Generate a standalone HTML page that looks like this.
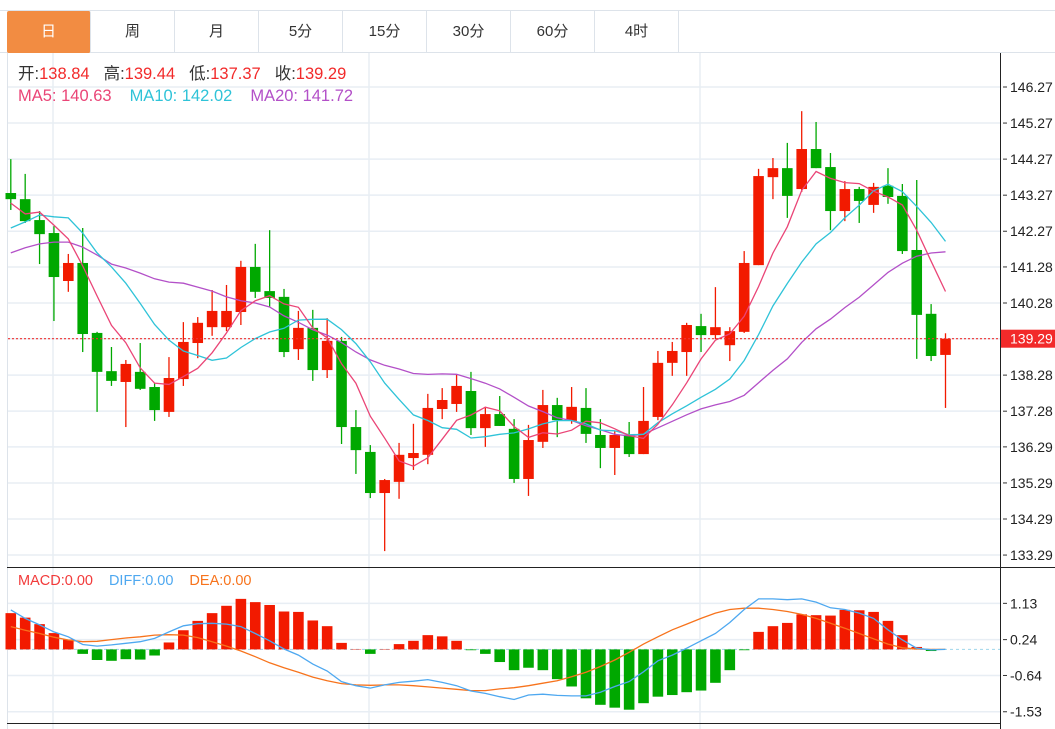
<!DOCTYPE html>
<html><head><meta charset="utf-8">
<style>
html,body{margin:0;padding:0;background:#fff;width:1055px;height:729px;overflow:hidden;font-family:"Liberation Sans","Noto Sans CJK SC",sans-serif;}
#tabs{position:absolute;left:0;top:10px;width:1055px;height:43px;border-top:1px solid #dde3ea;border-bottom:1px solid #dde3ea;box-sizing:border-box;}
.tab{position:absolute;top:0;height:42px;width:84px;line-height:42px;text-align:center;font-size:15px;color:#333;border-right:1px solid #dde3ea;box-sizing:border-box;}
.tab.on{background:#f28c42;color:#fff;border-radius:2px;}
svg{position:absolute;left:0;top:0;}
</style></head><body>
<div id="tabs">
<div class="tab on" style="left:7px">日</div>
<div class="tab" style="left:91px">周</div>
<div class="tab" style="left:175px">月</div>
<div class="tab" style="left:259px">5分</div>
<div class="tab" style="left:343px">15分</div>
<div class="tab" style="left:427px">30分</div>
<div class="tab" style="left:511px">60分</div>
<div class="tab" style="left:595px">4时</div>
</div>
<svg id="chart" width="1055" height="729"></svg>
<script>
const opens=[143.33,143.16,142.58,142.22,140.89,141.39,139.45,138.39,138.09,138.37,137.95,137.26,138.17,139.17,139.61,139.61,140.03,141.28,140.61,140.45,139.00,139.59,138.42,139.23,136.84,136.15,135.01,135.32,135.98,136.07,137.34,137.48,137.84,136.81,137.20,136.79,135.40,136.43,137.45,137.01,137.37,136.62,136.26,136.62,136.09,137.12,138.62,138.92,139.64,139.39,139.11,139.48,141.33,143.77,144.02,143.44,144.55,144.05,142.83,143.44,143.00,143.53,143.25,141.75,139.98,138.84];
const highs=[144.27,143.86,142.83,142.41,141.64,142.36,139.48,139.06,138.70,139.17,138.06,138.78,139.75,139.89,140.64,140.78,141.45,141.92,142.30,140.67,140.06,140.09,139.86,139.34,137.31,136.34,135.40,136.40,136.93,137.76,137.92,138.31,138.37,137.40,137.70,137.06,136.90,137.87,137.65,137.95,137.92,137.06,136.73,136.98,137.95,138.95,139.20,139.73,139.98,140.72,139.61,141.72,144.00,144.30,144.72,145.60,145.30,144.44,143.66,143.50,143.61,144.02,143.58,143.69,140.25,139.44];
const lows=[142.86,142.50,141.36,139.78,140.59,138.92,137.26,137.98,136.84,137.87,137.01,137.12,137.98,138.75,139.37,139.50,139.67,140.42,140.17,138.78,138.70,138.12,138.20,136.37,135.54,134.87,133.40,134.85,135.65,135.81,137.06,137.26,136.62,136.29,136.87,135.29,134.93,136.26,136.56,136.93,136.40,135.70,135.51,136.01,136.09,137.03,138.26,138.26,138.92,139.28,138.67,139.45,141.33,143.16,142.64,143.36,144.02,142.30,142.55,142.50,142.78,143.03,141.64,138.73,138.67,137.37];
const closes=[143.16,142.55,142.19,141.00,141.39,139.42,138.37,138.12,138.59,137.90,137.31,138.20,139.20,139.73,140.06,140.06,141.28,140.59,140.42,138.92,139.59,138.42,139.23,136.84,136.20,135.01,135.37,136.07,136.12,137.37,137.59,137.98,136.81,137.20,136.87,135.40,136.48,137.45,137.03,137.40,136.65,136.26,136.62,136.09,137.01,138.62,138.95,139.67,139.39,139.61,139.50,141.39,143.80,144.02,143.25,144.55,144.02,142.83,143.44,143.11,143.50,143.22,141.72,139.95,138.81,139.29];
const ma5Head=[143.05,142.75,142.80,142.44];
const ma10Head=[142.36,142.53,142.72,142.67,142.64,142.22,141.67,141.28,140.83];
const ma20Head=[141.67,141.81,141.92,141.97,141.97,141.83,141.61,141.36,141.25,141.11,140.95,140.86,140.83,140.72,140.61,140.45,140.34,140.28,140.17];
const priceTicks=[146.27,145.27,144.27,143.27,142.27,141.28,140.28,139.29,138.28,137.28,136.29,135.29,134.29,133.29];
const macdBars=[0.89,0.78,0.62,0.40,0.24,-0.11,-0.26,-0.28,-0.24,-0.25,-0.15,0.17,0.47,0.70,0.89,1.07,1.24,1.16,1.09,0.93,0.92,0.71,0.57,0.16,0.01,-0.11,0.01,0.13,0.21,0.35,0.32,0.21,-0.02,-0.11,-0.31,-0.51,-0.45,-0.51,-0.73,-0.91,-1.20,-1.36,-1.43,-1.48,-1.32,-1.16,-1.12,-1.05,-1.01,-0.82,-0.51,-0.02,0.43,0.57,0.65,0.86,0.84,0.83,0.97,0.96,0.92,0.70,0.35,0.06,-0.04,0.00];
const diffVals=[0.97,0.76,0.60,0.43,0.31,0.12,0.08,0.11,0.15,0.19,0.27,0.43,0.58,0.63,0.64,0.62,0.56,0.39,0.21,0.01,-0.14,-0.36,-0.53,-0.79,-0.89,-0.95,-0.87,-0.81,-0.78,-0.74,-0.81,-0.89,-1.02,-1.08,-1.16,-1.23,-1.12,-1.10,-1.13,-1.14,-1.14,-1.05,-0.91,-0.79,-0.55,-0.28,-0.14,0.03,0.21,0.39,0.66,0.98,1.24,1.24,1.22,1.24,1.16,1.02,0.98,0.89,0.76,0.48,0.23,0.03,-0.01,0.00];
const deaVals=[0.56,0.47,0.39,0.30,0.23,0.19,0.20,0.24,0.28,0.31,0.35,0.36,0.35,0.29,0.19,0.08,-0.04,-0.18,-0.33,-0.45,-0.56,-0.68,-0.77,-0.84,-0.87,-0.88,-0.87,-0.87,-0.89,-0.92,-0.95,-0.98,-1.01,-1.01,-0.97,-0.94,-0.89,-0.83,-0.77,-0.67,-0.56,-0.42,-0.26,-0.07,0.13,0.31,0.48,0.62,0.76,0.89,0.98,1.01,1.01,0.98,0.93,0.86,0.76,0.64,0.52,0.39,0.26,0.13,0.04,0.01,0.00,0.00];
const macdTicks=[1.13,0.24,-0.64,-1.53];

const NS='http://www.w3.org/2000/svg';
const svg=document.getElementById('chart');
function mk(tag,attrs,parent){const e=document.createElementNS(NS,tag);for(const k in attrs)e.setAttribute(k,attrs[k]);(parent||svg).appendChild(e);return e;}
const X0=10.8,DX=14.38;
function xs(i){return X0+i*DX;}
function yp(p){return 87+(146.27-p)*36.06;}
function ym(v){return 649.4-v*40.75;}
const UP='#f21a00',DN='#00a800';

for(const t of priceTicks){
  const g=mk('line',{x1:8,x2:1000,y1:yp(t),y2:yp(t),stroke:'#e8eef4','stroke-width':1.5});
  
  
}
for(const t of macdTicks){
  const g=mk('line',{x1:8,x2:1000,y1:ym(t),y2:ym(t),stroke:'#e8eef4','stroke-width':1.5});
  
  
}
for(const vx of [53,369,700]){
  const g=mk('line',{x1:vx,x2:vx,y1:53,y2:729,stroke:'#e8eef4','stroke-width':1.5});
  
  
}
mk('line',{x1:7.5,x2:7.5,y1:53,y2:729,stroke:'#dde3ea'});
const ax=mk('line',{x1:1000.5,x2:1000.5,y1:53,y2:729,stroke:'#222'});


mk('line',{x1:7,x2:1055,y1:567.5,y2:567.5,stroke:'#222'});
mk('line',{x1:7,x2:1000,y1:723.5,y2:723.5,stroke:'#222'});

for(const t of priceTicks){
  mk('line',{x1:1003,x2:1007,y1:yp(t),y2:yp(t),stroke:'#333'});
  const tx=mk('text',{x:1010,y:yp(t)+5,'font-size':14,fill:'#222'});
  tx.textContent=t.toFixed(2);
  
  
}
for(const t of macdTicks){
  mk('line',{x1:1003,x2:1007,y1:ym(t),y2:ym(t),stroke:'#333'});
  const tx=mk('text',{x:1010,y:ym(t)+5,'font-size':14,fill:'#222'});
  tx.textContent=t.toFixed(2);
  
  
}

for(let i=0;i<closes.length;i++){
  const up=closes[i]>=opens[i],c=up?UP:DN,x=xs(i);
  const w=mk('line',{x1:x,x2:x,y1:yp(highs[i]),y2:yp(lows[i]),stroke:c,'stroke-width':1.3});
  
  
  const top=yp(Math.max(opens[i],closes[i])),bot=yp(Math.min(opens[i],closes[i]));
  const b=mk('rect',{x:x-5.3,y:top,width:10.6,height:Math.max(1,bot-top),fill:c});
  
  
}

function ma(n,head){const out=[];for(let i=0;i<closes.length;i++){if(i<n-1){out.push(head[i]);}else{let s=0;for(let k=i-n+1;k<=i;k++)s+=closes[k];out.push(s/n);}}return out;}
function poly(vals,fy,color,name){
  const pts=vals.map((v,i)=>xs(i).toFixed(1)+','+fy(v).toFixed(1)).join(' ');
  const p=mk('polyline',{points:pts,fill:'none',stroke:color,'stroke-width':1.3});
  
  
}
poly(ma(20,ma20Head),yp,'#b350c8','ma20-line');
poly(ma(10,ma10Head),yp,'#2fc3d8','ma10-line');
poly(ma(5,ma5Head),yp,'#ea4577','ma5-line');

const lc=closes[closes.length-1];
const ll=mk('line',{x1:8,x2:1000,y1:yp(lc),y2:yp(lc),stroke:'#f03030','stroke-dasharray':'2,2','stroke-width':1.2});


const lb=mk('rect',{x:1001,y:yp(lc)-9,width:54,height:18,fill:'#f22a2a'});


const lt=mk('text',{x:1010,y:yp(lc)+5,'font-size':14,fill:'#fff'});
lt.textContent=lc.toFixed(2);



mk('line',{x1:8,x2:1000,y1:ym(0),y2:ym(0),stroke:'#9fd6ec','stroke-dasharray':'3,3'});
for(let i=0;i<macdBars.length;i++){
  const v=macdBars[i],y0=ym(0),y1=ym(v);
  const r=mk('rect',{x:xs(i)-5.3,y:Math.min(y0,y1),width:10.6,height:Math.abs(y1-y0),fill:v>=0?UP:DN});
  
  
}
poly(deaVals,ym,'#f7731c','dea-line');
poly(diffVals,ym,'#4ea8f0','diff-line');

function legend(y,fs,items,name){
  const t=mk('text',{x:18,y:y,'font-size':fs});
  
  
  for(const [s,c,dx] of items){const sp=mk('tspan',{fill:c},t);if(dx)sp.setAttribute('dx',dx);sp.textContent=s;}
}
legend(79,16.5,[['开:','#333',0],['138.84','#f22a2a',0],['高:','#333',14],['139.44','#f22a2a',0],['低:','#333',14],['137.37','#f22a2a',0],['收:','#333',14],['139.29','#f22a2a',0]],'ohlc-legend');
legend(101,16.5,[['MA5: 140.63','#ea4577',0],['MA10: 142.02','#2fc3d8',18],['MA20: 141.72','#b350c8',18]],'ma-legend');
legend(585,14.5,[['MACD:0.00','#f23a3a',0],['DIFF:0.00','#4ea8f0',16],['DEA:0.00','#f7731c',16]],'macd-legend');
</script>
</body></html>
